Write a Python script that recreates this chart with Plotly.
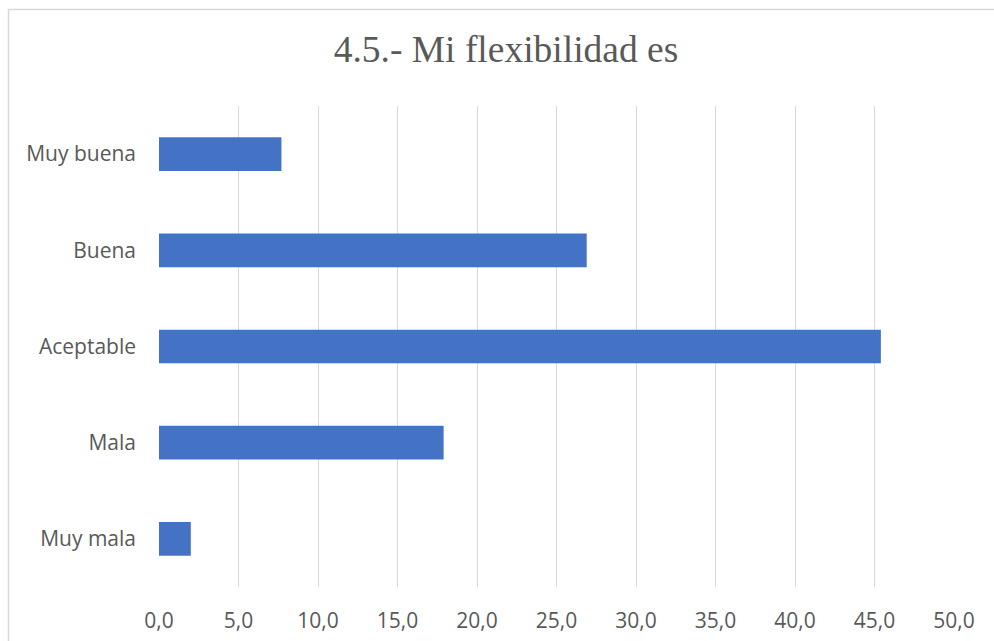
import plotly.graph_objects as go

categories = ["Muy mala", "Mala", "Aceptable", "Buena", "Muy buena"]
values = [2.0, 17.9, 45.4, 26.9, 7.7]
x_ticks = [0, 5, 10, 15, 20, 25, 30, 35, 40, 45, 50]
x_tick_labels = ["0,0", "5,0", "10,0", "15,0", "20,0", "25,0", "30,0", "35,0", "40,0", "45,0", "50,0"]
title_text = "4.5.- Mi flexibilidad es"

W, H = 994, 641
ML, MR, MT, MB = 159, 40, 106, 54
PW, PH = W - ML - MR, H - MT - MB

fig = go.Figure(go.Bar(
    x=values, y=categories, orientation="h",
    marker=dict(color="#4472C4", line=dict(width=0)),
    width=0.35, hoverinfo="x+y",
))

fig.update_layout(
    width=W, height=H,
    margin=dict(l=ML, r=MR, t=MT, b=MB, pad=0, autoexpand=False),
    paper_bgcolor="white", plot_bgcolor="white",
    showlegend=False,
    title=dict(text=title_text, x=506 / W, xanchor="center", y=1 - 49 / H, yanchor="middle",
               automargin=False,
               font=dict(family="Liberation Serif", size=37.5, color="#595959")),
    xaxis=dict(range=[0, 50], tickvals=x_ticks, ticktext=x_tick_labels, automargin=False,
               showgrid=True, gridcolor="#D9D9D9", gridwidth=1, zeroline=False,
               showline=False, ticks="", ticklabelstandoff=19,
               tickfont=dict(family="Open Sans", size=21, color="#595959"), fixedrange=True),
    yaxis=dict(categoryorder="array", categoryarray=categories, range=[-0.5, 4.5], automargin=False,
               showgrid=False, zeroline=False, showline=False, ticks="", ticklabelstandoff=22,
               tickfont=dict(family="Open Sans", size=21, color="#595959"), fixedrange=True),
    shapes=[dict(type="rect", xref="paper", yref="paper",
                 x0=(8.5 - ML) / PW, x1=(1010 - ML) / PW,
                 y0=(H - 660 - MB) / PH, y1=(H - 9.5 - MB) / PH,
                 line=dict(color="#D9D9D9", width=1.5), fillcolor="rgba(0,0,0,0)", layer="below")],
)

fig.write_html("out.html")
